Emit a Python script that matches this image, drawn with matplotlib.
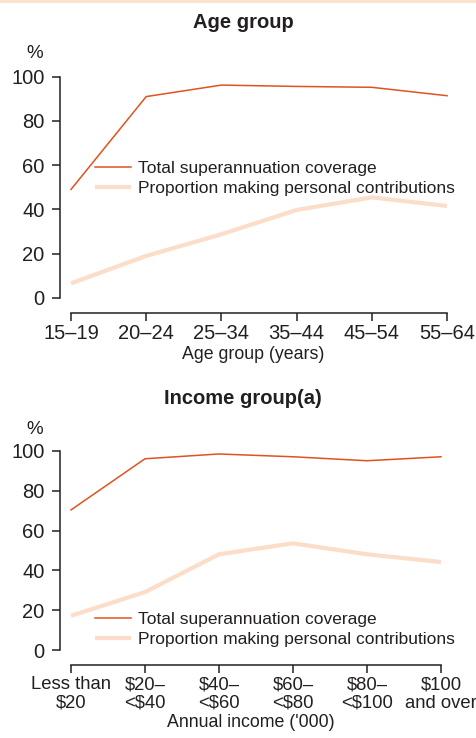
import matplotlib
matplotlib.use("Agg")
import matplotlib.pyplot as plt
from matplotlib.lines import Line2D

plt.rcParams['font.family'] = ['Liberation Sans', 'DejaVu Sans']

# Age group panel
age_labels = ["15–19", "20–24", "25–34", "35–44", "45–54", "55–64"]
age_total = [49.0, 91.0, 96.2, 95.6, 95.2, 91.4]
age_personal = [6.5, 18.9, 28.7, 39.7, 45.4, 41.5]

# Income group panel
income_labels = ["Less than\n$20", "$20–\n<$40", "$40–\n<$60", "$60–\n<$80",
                 "$80–\n<$100", "$100\nand over"]
income_total = [70.4, 96.1, 98.5, 97.1, 95.1, 97.1]
income_personal = [17.2, 29.1, 48.1, 53.6, 48.1, 44.2]

yticks = [0, 20, 40, 60, 80, 100]

DARK = "#E2521E"
LIGHT = "#FBDDC9"
TEXT = "#231F20"

W, H = 476, 738
fig = plt.figure(figsize=(W / 100, H / 100), dpi=100)
fig.patch.set_facecolor("white")

# thin rule along the top edge
fig.add_artist(Line2D([0, 1], [1 - 1.2 / H, 1 - 1.2 / H], transform=fig.transFigure,
                      color="#FBE3CF", lw=2.2))


def panel(rect, labels, total, personal, xlabel, legend_y, xl, xsize):
    ax = fig.add_axes(rect)
    x = list(range(len(labels)))
    ax.plot(x, personal, color=LIGHT, lw=3.0, solid_capstyle="butt",
            label="Proportion making personal contributions", clip_on=False)
    ax.plot(x, total, color=DARK, lw=1.1, label="Total superannuation coverage",
            clip_on=False)
    ax.set_xlim(xl, len(labels) - 1)
    ax.set_ylim(0, 100)
    for s in ("top", "right"):
        ax.spines[s].set_visible(False)
    ax.spines["left"].set_bounds(0, 100)
    ax.spines["bottom"].set_bounds(0, len(labels) - 1)
    ax.spines["bottom"].set_position(("outward", 11))
    for s in ("left", "bottom"):
        ax.spines[s].set_color(TEXT)
        ax.spines[s].set_linewidth(1.1)
    ax.set_yticks(yticks)
    ax.set_xticks(x)
    ax.set_xticklabels(labels, linespacing=1.1)
    ax.tick_params(axis="both", colors=TEXT, labelsize=14.5, width=1.1, length=6,
                   direction="out")
    ax.tick_params(axis="x", labelsize=xsize, pad=2)
    ax.tick_params(axis="y", pad=5)
    ax.set_facecolor("none")

    h, l = ax.get_legend_handles_labels()
    leg = ax.legend(h[::-1], l[::-1], loc="upper left",
                    bbox_to_anchor=(95 / W, legend_y), bbox_transform=fig.transFigure,
                    frameon=False, fontsize=12.5, handlelength=2.05,
                    handletextpad=0.4, labelspacing=0.25, borderpad=0,
                    borderaxespad=0)
    for t in leg.get_texts():
        t.set_color(TEXT)

    ax.set_xlabel(xlabel, fontsize=12.8, color=TEXT, labelpad=2)
    return ax


ax1 = panel([60 / W, 1 - 297.7 / H, 387 / W, 221 / H], age_labels, age_total,
            age_personal, "Age group (years)", 1 - 161 / H, -11 / 75.2, 14.5)
ax2 = panel([60 / W, 1 - 650 / H, 381 / W, 199 / H], income_labels, income_total,
            income_personal, "Annual income ('000)", 1 - 612 / H, -11 / 74.0, 13.3)

fig.text(243 / W, 1 - 22 / H, "Age group", fontsize=14.5, fontweight="bold",
         color=TEXT, ha="center", va="center")
fig.text(243 / W, 1 - 398 / H, "Income group(a)", fontsize=14.5, fontweight="bold",
         color=TEXT, ha="center", va="center")

fig.text(35 / W, 1 - 53 / H, "%", fontsize=13.5, color=TEXT, ha="center", va="center")
fig.text(35 / W, 1 - 429 / H, "%", fontsize=13.5, color=TEXT, ha="center", va="center")

fig.savefig("out.png", dpi=100, facecolor="white")
